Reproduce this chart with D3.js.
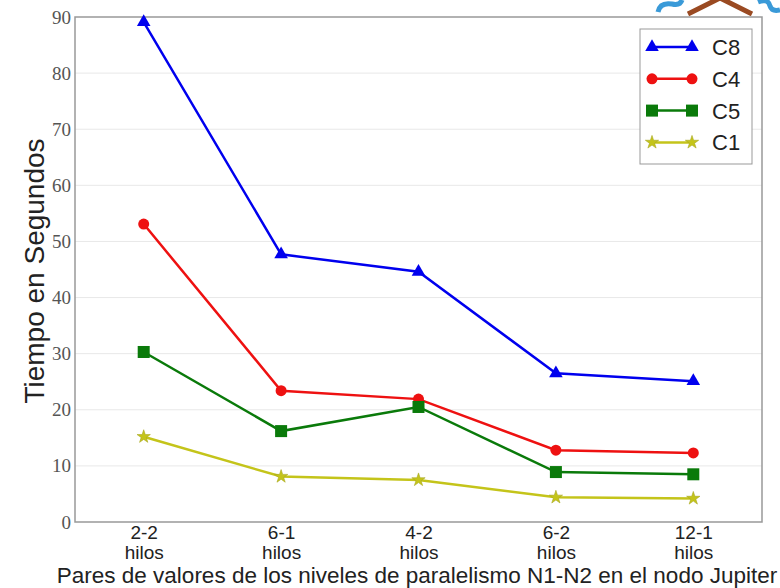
<!DOCTYPE html>
<html>
<head>
<meta charset="utf-8">
<title>Tiempo en Segundos</title>
<script src="https://d3js.org/d3.v7.min.js"></script>
<style>
  body { margin: 0; background: #fff; }
  .ytick text { font-family: "Liberation Serif", "DejaVu Serif", serif; font-size: 19px; fill: #555; }
  .xtick text { font-family: "Liberation Sans", Arial, sans-serif; font-size: 19px; fill: #222; }
</style>
</head>
<body>
<div id="chart"></div>
<script>
// categories and series
const categories = ["2-2", "6-1", "4-2", "6-2", "12-1"];
const c8 = [89.1, 47.7, 44.6, 26.5, 25.1];
const c4 = [53.1, 23.4, 21.9, 12.8, 12.3];
const c5 = [30.3, 16.2, 20.5, 8.9, 8.5];
const c1 = [15.2, 8.1, 7.5, 4.4, 4.2];
const yTicks = [0, 10, 20, 30, 40, 50, 60, 70, 80, 90];

const series = [
  {name: "C8", values: c8, color: "#0000ee", marker: "triangle"},
  {name: "C4", values: c4, color: "#ee1111", marker: "circle"},
  {name: "C5", values: c5, color: "#0a7a0a", marker: "square"},
  {name: "C1", values: c1, color: "#c4c41a", marker: "star"}
];

const W = 780, H = 588;
const margin = {top: 17, right: 18, bottom: 66, left: 75};
const width = W - margin.left - margin.right;
const height = H - margin.top - margin.bottom;

const svg = d3.select("#chart").append("svg")
  .attr("width", W).attr("height", H);

// logo fragment at top right
const logo = svg.append("g");
logo.append("path")
  .attr("d", "M688,14 L720,-2 L752,14")
  .attr("fill", "none").attr("stroke", "#9a4a22").attr("stroke-width", 5);
logo.append("path")
  .attr("d", "M658,12 Q660,2 672,4 Q680,6 682,0")
  .attr("fill", "none").attr("stroke", "#3a9ad8").attr("stroke-width", 5);
logo.append("path")
  .attr("d", "M758,2 Q768,-2 770,6 Q772,12 780,10")
  .attr("fill", "none").attr("stroke", "#3a9ad8").attr("stroke-width", 5);

const g = svg.append("g").attr("transform", `translate(${margin.left},${margin.top})`);

const x = d3.scalePoint().domain(categories).range([0, width]).padding(0.5);
const y = d3.scaleLinear().domain([0, 90]).range([height, 0]);

// grid
g.append("g").selectAll("line").data(yTicks.slice(1, -1)).join("line")
  .attr("x1", 0).attr("x2", width)
  .attr("y1", d => y(d)).attr("y2", d => y(d))
  .attr("stroke", "#e8e8e8").attr("stroke-width", 1);

// y axis labels
const yAxis = g.append("g").attr("class", "ytick")
  .call(d3.axisLeft(y).tickValues(yTicks).tickSize(0).tickPadding(4));
yAxis.select(".domain").remove();

// x axis labels (two lines)
const xAxis = g.append("g").attr("class", "xtick")
  .attr("transform", `translate(0,${height})`)
  .call(d3.axisBottom(x).tickSize(0).tickFormat(""));
xAxis.select(".domain").remove();
xAxis.selectAll(".tick").each(function(d) {
  const t = d3.select(this).select("text");
  t.attr("y", 0).attr("dy", null);
  t.append("tspan").attr("x", 0).attr("y", 17).text(d);
  t.append("tspan").attr("x", 0).attr("y", 37).text("hilos");
});

// frame
g.append("rect").attr("width", width).attr("height", height)
  .attr("fill", "none").attr("stroke", "#999").attr("stroke-width", 1.5);

// markers
const star = d3.symbol().type(d3.symbolStar).size(55);
const tri = d3.symbol().type(d3.symbolTriangle).size(80);
function drawMarker(sel, type, color) {
  if (type === "circle") {
    sel.append("circle").attr("r", 5.5).attr("fill", color);
  } else if (type === "square") {
    sel.append("rect").attr("x", -6).attr("y", -6).attr("width", 12).attr("height", 12).attr("fill", color);
  } else if (type === "triangle") {
    sel.append("path").attr("d", tri()).attr("fill", color);
  } else {
    sel.append("path").attr("d", star()).attr("fill", color).attr("stroke", "#a8a820").attr("stroke-width", 0.6);
  }
}

const line = d3.line().x((d, i) => x(categories[i])).y(d => y(d));

series.forEach(s => {
  g.append("path").attr("d", line(s.values))
    .attr("fill", "none").attr("stroke", s.color).attr("stroke-width", 2.5);
  s.values.forEach((v, i) => {
    const m = g.append("g").attr("transform", `translate(${x(categories[i])},${y(v)})`);
    drawMarker(m, s.marker, s.color);
  });
});

// legend
const legend = svg.append("g").attr("transform", "translate(640,29)");
legend.append("rect").attr("width", 112).attr("height", 135)
  .attr("fill", "#fff").attr("stroke", "#999").attr("stroke-width", 1);
series.forEach((s, i) => {
  const row = legend.append("g").attr("transform", `translate(0,${18 + i * 31.8})`);
  row.append("line").attr("x1", 12).attr("x2", 52)
    .attr("stroke", s.color).attr("stroke-width", 2.5);
  [12, 52].forEach(px => {
    drawMarker(row.append("g").attr("transform", `translate(${px},0)`), s.marker, s.color);
  });
  row.append("text").attr("x", 72).attr("y", 8)
    .attr("font-family", "Liberation Sans, Arial, sans-serif")
    .attr("font-size", 22).attr("fill", "#222").text(s.name);
});

// axis titles
svg.append("text")
  .attr("x", 417).attr("y", 583)
  .attr("text-anchor", "middle")
  .attr("font-family", "Liberation Sans, Arial, sans-serif")
  .attr("font-size", 22.5).attr("fill", "#222")
  .text("Pares de valores de los niveles de paralelismo N1-N2 en el nodo Jupiter");

svg.append("text")
  .attr("transform", "translate(44,271) rotate(-90)")
  .attr("text-anchor", "middle")
  .attr("font-family", "Liberation Sans, Arial, sans-serif")
  .attr("font-size", 28).attr("fill", "#222")
  .text("Tiempo en Segundos");
</script>
</body>
</html>
